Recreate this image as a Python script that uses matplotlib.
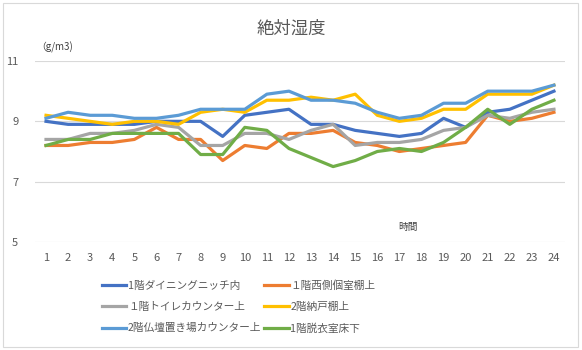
import matplotlib
matplotlib.use("Agg")
import matplotlib.pyplot as plt
from matplotlib.patches import Rectangle

plt.rcParams['font.family'] = ['Noto Sans CJK JP', 'DejaVu Sans']

hours = list(range(1, 25))

# absolute humidity (g/m3)
dining = [9.0, 8.9, 8.9, 8.9, 8.9, 9.0, 9.0, 9.0, 8.5, 9.2, 9.3, 9.4,
          8.9, 8.9, 8.7, 8.6, 8.5, 8.6, 9.1, 8.8, 9.3, 9.4, 9.7, 10.0]
west_room = [8.2, 8.2, 8.3, 8.3, 8.4, 8.8, 8.4, 8.4, 7.7, 8.2, 8.1, 8.6,
             8.6, 8.7, 8.3, 8.2, 8.0, 8.1, 8.2, 8.3, 9.2, 9.0, 9.1, 9.3]
toilet = [8.4, 8.4, 8.6, 8.6, 8.7, 8.9, 8.8, 8.2, 8.2, 8.6, 8.6, 8.4,
          8.7, 8.9, 8.2, 8.3, 8.3, 8.4, 8.7, 8.8, 9.2, 9.1, 9.3, 9.4]
storage = [9.2, 9.1, 9.0, 8.9, 9.0, 9.0, 8.9, 9.3, 9.4, 9.3, 9.7, 9.7,
           9.8, 9.7, 9.9, 9.2, 9.0, 9.1, 9.4, 9.4, 9.9, 9.9, 9.9, 10.2]
altar = [9.1, 9.3, 9.2, 9.2, 9.1, 9.1, 9.2, 9.4, 9.4, 9.4, 9.9, 10.0,
         9.7, 9.7, 9.6, 9.3, 9.1, 9.2, 9.6, 9.6, 10.0, 10.0, 10.0, 10.2]
dressing = [8.2, 8.4, 8.4, 8.6, 8.6, 8.6, 8.6, 7.9, 7.9, 8.8, 8.7, 8.1,
            7.8, 7.5, 7.7, 8.0, 8.1, 8.0, 8.3, 8.8, 9.4, 8.9, 9.4, 9.7]

series = [
    ('1階ダイニングニッチ内', dining, '#4472C4'),
    ('１階西側個室棚上', west_room, '#ED7D31'),
    ('１階トイレカウンター上', toilet, '#A5A5A5'),
    ('2階納戸棚上', storage, '#FFC000'),
    ('2階仏壇置き場カウンター上', altar, '#5B9BD5'),
    ('1階脱衣室床下', dressing, '#70AD47'),
]

fig = plt.figure(figsize=(5.82, 3.5), dpi=100)
fig.patches.append(Rectangle((0.005, 0.01), 0.988, 0.982, transform=fig.transFigure,
                             fill=False, edgecolor='#D9D9D9', lw=0.8))

ax = fig.add_axes([0.0601, 0.3086, 0.9107, 0.5171])
handles = []
for name, vals, col in series:
    h, = ax.plot(hours, vals, color=col, lw=2.3, label=name, solid_joinstyle='round')
    handles.append(h)

ax.set_xlim(0.5, 24.5)
ax.set_ylim(5, 11)
ax.set_yticks([5, 7, 9, 11])
ax.set_xticks(hours)
ax.grid(axis='y', color='#D9D9D9', lw=0.8)
ax.set_axisbelow(True)
for s in ax.spines.values():
    s.set_visible(False)
ax.tick_params(length=0, labelsize=8, colors='#595959')
ax.tick_params(axis='y', pad=12)
ax.tick_params(axis='x', pad=8)

fig.text(0.5, 0.918, '絶対湿度', ha='center', va='center', fontsize=12.5, color='#595959')
fig.text(0.062, 0.865, '（g/m3)', ha='left', va='center', fontsize=7, color='#404040')
ax.text(17.4, 5.5, '時間', ha='center', va='center', fontsize=7, color='#404040')

order = [0, 2, 4, 1, 3, 5]
fig.legend([handles[i] for i in order], [series[i][0] for i in order],
           ncol=2, loc='center', bbox_to_anchor=(0.41, 0.123), frameon=False,
           fontsize=7.7, labelcolor='#595959', handlelength=2.3, handletextpad=0.15,
           columnspacing=0.25, labelspacing=1.05)

fig.savefig('out.png', dpi=100)
